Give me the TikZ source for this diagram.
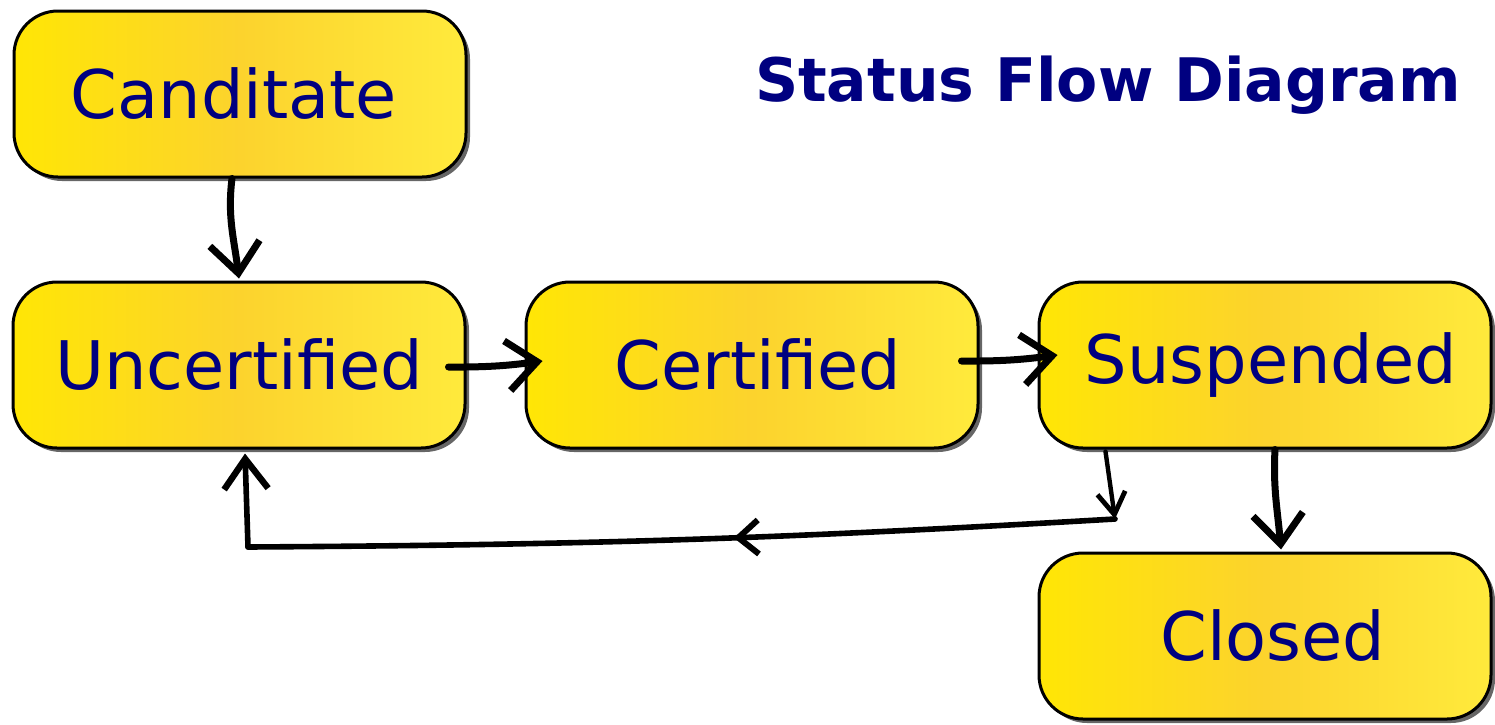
\documentclass[tikz,border=0pt]{standalone}
\usepackage{fontspec}
\setmainfont{DejaVu Sans}
\usetikzlibrary{arrows.meta,shadows,decorations.markings}
\definecolor{navy}{RGB}{0,0,128}
\definecolor{yl}{RGB}{255,230,5}
\definecolor{ym}{RGB}{252,211,45}
\definecolor{yr}{RGB}{255,234,60}
\begin{document}
\begin{tikzpicture}[x=0.5pt,y=0.5pt,
  state/.style={draw=black, line width=1.5pt, rounded corners=22pt,
    minimum width=226pt, minimum height=83pt, inner sep=0pt,
    left color=yl, right color=yr, middle color=ym, text=navy,
    font=\fontsize{33.5}{40}\selectfont,
    drop shadow={shadow xshift=2pt, shadow yshift=-2pt, fill=black, opacity=0.6}},
  flow/.style={line width=3.5pt, line cap=round,
    -{Straight Barb[length=15pt,width=25pt,line width=3.5pt]}},
  flowsmall/.style={line width=2.2pt, line cap=round,
    -{Straight Barb[length=11pt,width=14pt,line width=2.4pt]}},
  flowback/.style={line width=2.8pt, line cap=round,
    -{Straight Barb[length=15pt,width=22pt,line width=3.2pt]}},
  midarrow/.style={postaction=decorate, decoration={markings,
    mark=at position 0.44 with {\arrow{Straight Barb[length=10pt,width=17pt,line width=3pt]}}}},
  title/.style={text=navy, font=\bfseries\fontsize{30}{36}\selectfont}
]
\useasboundingbox (0,0) rectangle (1495,-724);

\node[state] (cand)   at (240,-94)   {\hspace*{-6pt}Canditate};
\node[state] (unc)    at (239,-365)  {Uncertified};
\node[state] (cert)   at (752,-365)  {\hspace*{6pt}Certified};
\node[state] (susp)   at (1265,-365) {\hspace*{6pt}Suspended};
\node[state] (closed) at (1265,-636) {\hspace*{8pt}Closed};

\node[title, anchor=base] (ttl) at (1108,-101) {Status Flow Diagram};

\coordinate (c1) at (1115,-519);
\coordinate (c2) at (248,-547);

\draw[flow] ([xshift=-4pt]cand.south) to[out=-97,in=97] ([yshift=1pt]unc.north);
\draw[flow] ([xshift=-9pt,yshift=-1pt]unc.east) to[bend right=4] ([xshift=9pt,yshift=2pt]cert.west);
\draw[flow] ([xshift=-9pt,yshift=2pt]cert.east) to[bend right=4] ([xshift=10pt,yshift=5pt]susp.west);
\draw[flow] ([xshift=5pt]susp.south) to[out=-93,in=95] ([xshift=8pt,yshift=1pt]closed.north);
\draw[flowsmall] ([xshift=34pt,yshift=-1pt]susp.south west) -- (c1);
\draw[line width=2.8pt, line cap=round, midarrow] (c1) to[bend left=1.5] (c2);
\draw[flowback] (c2) -- ([xshift=3pt,yshift=-2pt]unc.south);
\end{tikzpicture}
\end{document}
